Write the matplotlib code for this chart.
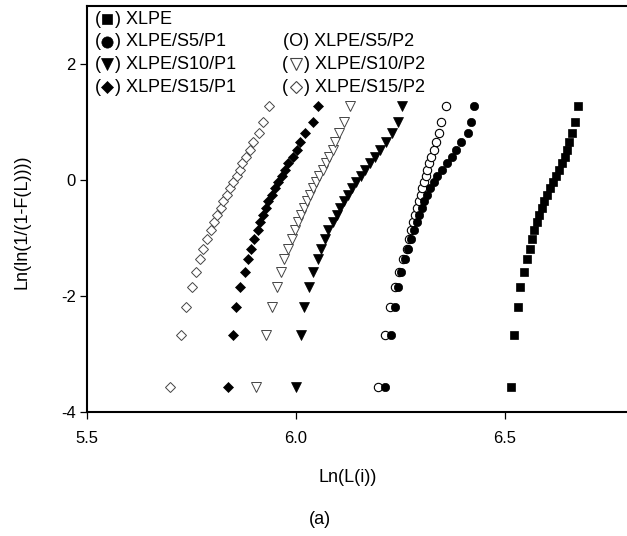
import matplotlib
matplotlib.use('Agg')
import matplotlib.pyplot as plt
from matplotlib.lines import Line2D

plt.rcParams['font.family'] = ['Liberation Sans', 'DejaVu Sans']
plt.rcParams['axes.unicode_minus'] = False

# Weibull plotting positions (same 25 levels for all samples)
y_levels = [-3.577, -2.670, -2.186, -1.848, -1.587, -1.370, -1.184, -1.018, -0.869,
            -0.732, -0.604, -0.482, -0.367, -0.255, -0.146, -0.038, 0.069, 0.177,
            0.287, 0.402, 0.523, 0.656, 0.807, 0.995, 1.278]

x_xlpe = [6.514, 6.521, 6.530, 6.537, 6.545, 6.552, 6.560, 6.565, 6.569, 6.576,
          6.582, 6.588, 6.594, 6.601, 6.608, 6.616, 6.623, 6.630, 6.637, 6.644,
          6.649, 6.654, 6.661, 6.668, 6.675]
x_s5p1 = [6.212, 6.227, 6.236, 6.245, 6.250, 6.261, 6.269, 6.275, 6.282, 6.289,
          6.295, 6.301, 6.307, 6.314, 6.321, 6.329, 6.338, 6.349, 6.361, 6.373,
          6.383, 6.395, 6.412, 6.418, 6.427]
x_s5p2 = [6.197, 6.214, 6.226, 6.238, 6.247, 6.255, 6.265, 6.271, 6.276, 6.280,
          6.285, 6.290, 6.294, 6.298, 6.302, 6.306, 6.310, 6.314, 6.318, 6.324,
          6.330, 6.336, 6.341, 6.348, 6.359]
x_s10p1 = [6.000, 6.011, 6.020, 6.032, 6.041, 6.052, 6.061, 6.069, 6.077, 6.088,
           6.097, 6.105, 6.115, 6.125, 6.133, 6.144, 6.155, 6.165, 6.177, 6.189,
           6.201, 6.215, 6.230, 6.244, 6.253]
x_s10p2 = [5.904, 5.928, 5.942, 5.954, 5.965, 5.972, 5.982, 5.990, 5.998, 6.004,
           6.012, 6.019, 6.026, 6.033, 6.040, 6.047, 6.056, 6.064, 6.072, 6.080,
           6.088, 6.094, 6.102, 6.115, 6.128]
x_s15p1 = [5.838, 5.850, 5.856, 5.866, 5.878, 5.884, 5.892, 5.900, 5.908, 5.914,
           5.920, 5.928, 5.934, 5.942, 5.950, 5.958, 5.966, 5.974, 5.982, 5.992,
           6.002, 6.010, 6.022, 6.041, 6.053]
x_s15p2 = [5.699, 5.726, 5.738, 5.750, 5.761, 5.771, 5.778, 5.788, 5.796, 5.804,
           5.812, 5.820, 5.826, 5.836, 5.842, 5.850, 5.858, 5.866, 5.872, 5.880,
           5.890, 5.898, 5.912, 5.920, 5.936]

labels_col1 = ['XLPE', 'XLPE/S5/P1', 'XLPE/S10/P1', 'XLPE/S15/P1']
labels_col2 = ['', 'XLPE/S5/P2', 'XLPE/S10/P2', 'XLPE/S15/P2']

# marker styles: (marker, size, facecolor, edgecolor, edgewidth)
st_xlpe = ('s', 5.2, 'black', 'black', 0.5)
st_s5p1 = ('o', 6, 'black', 'black', 0.5)
st_s5p2 = ('o', 6, 'white', 'black', 0.8)
st_s10p1 = ('v', 6.5, 'black', 'black', 0.5)
st_s10p2 = ('v', 6.5, 'white', '#444444', 0.7)
st_s15p1 = ('D', 4.9, 'black', 'black', 0.5)
st_s15p2 = ('D', 4.9, 'white', '#444444', 0.7)

fig = plt.figure(figsize=(6.27, 5.36), dpi=100)
ax = fig.add_axes([87 / 627, 1 - 412 / 536, 543.4 / 627, 406 / 536])

series = [(x_xlpe, st_xlpe), (x_s5p2, st_s5p2), (x_s5p1, st_s5p1),
          (x_s10p1, st_s10p1), (x_s10p2, st_s10p2),
          (x_s15p1, st_s15p1), (x_s15p2, st_s15p2)]
for xs, (m, ms, fc, ec, ew) in series:
    ax.plot(xs, y_levels, m, ms=ms, mfc=fc, mec=ec, mew=ew, ls='none')

ax.set_xlim(5.5, 6.8)
ax.set_ylim(-4, 3)
ax.set_xticks([5.5, 6.0, 6.5])
ax.set_xticklabels(['5.5', '6.0', '6.5'])
ax.set_yticks([-4, -2, 0, 2])
ax.tick_params(direction='out', length=5, width=0.9, labelsize=12)
ax.tick_params(axis='x', pad=9)
ax.tick_params(axis='y', pad=3)
for s in ax.spines.values():
    s.set_linewidth(1.5)
ax.spines['right'].set_visible(False)

# legend drawn as text with symbol glyphs inside parentheses
W, H = 627.0, 536.0
leg1 = [st_xlpe, st_s5p1, st_s10p1, st_s15p1]
leg2 = [None, None, st_s10p2, st_s15p2]
for r in range(4):
    yy = 1 - (19 + r * 22.7) / H
    # column 1
    fig.text(95 / W, yy, '(', fontsize=13, va='center', ha='left')
    m, ms, fc, ec, ew = leg1[r]
    fig.add_artist(Line2D([107.5 / W], [yy], marker=m, ms=ms * 1.35, mfc=fc, mec=ec,
                          mew=ew, ls='none', transform=fig.transFigure))
    fig.text(115 / W, yy, ') ' + labels_col1[r], fontsize=13, va='center', ha='left')
    # column 2
    if r == 1:
        fig.text(283 / W, yy, '(O) ' + labels_col2[r], fontsize=13, va='center', ha='left')
    elif leg2[r] is not None:
        fig.text(282 / W, yy, '(', fontsize=13, va='center', ha='left')
        m, ms, fc, ec, ew = leg2[r]
        fig.add_artist(Line2D([296 / W], [yy], marker=m, ms=ms * 1.35, mfc=fc, mec=ec,
                              mew=0.8, ls='none', transform=fig.transFigure))
        fig.text(304 / W, yy, ') ' + labels_col2[r], fontsize=13, va='center', ha='left')

fig.text(348 / W, 1 - 478 / H, 'Ln(L(i))', fontsize=13, ha='center', va='center')
fig.text(22 / W, 1 - 222 / H, 'Ln(ln(1/(1-F(L))))', fontsize=13, rotation=90,
         ha='center', va='center')
fig.text(320 / W, 1 - 520 / H, '(a)', fontsize=13, ha='center', va='center')

fig.savefig('out.png', dpi=100)
